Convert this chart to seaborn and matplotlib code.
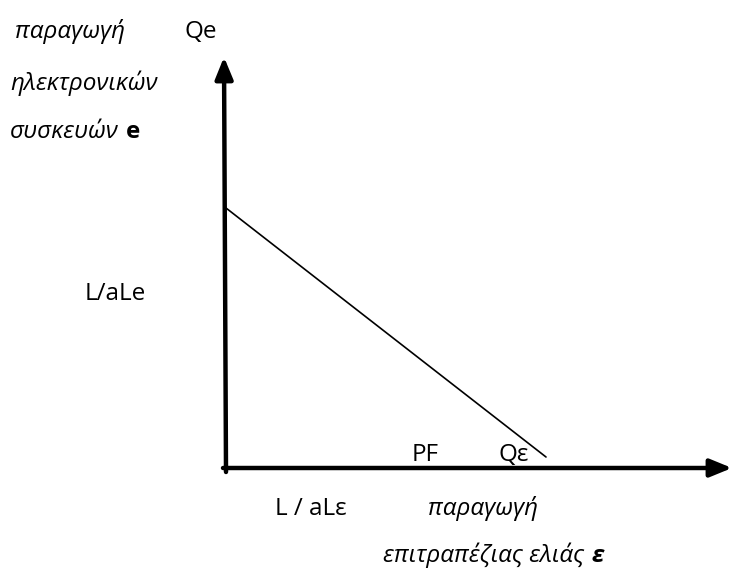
import matplotlib
matplotlib.use("Agg")
import matplotlib.pyplot as plt
import seaborn as sns
import pandas as pd

# PPF line: goes from the Qe intercept (L/aLe) down towards the Qε axis
ppf_qeps = [0, 320]
ppf_qe = [260, 11]

# axis extents (origin at the corner)
x_axis_end = 506
y_axis_end = 411

sns.set_theme(style="white")
plt.rcParams["font.family"] = ["Open Sans", "DejaVu Sans"]
plt.rcParams["text.color"] = "black"

fig = plt.figure(figsize=(7.32, 5.70), dpi=100)
ax = fig.add_axes([0, 0, 1, 1])
ax.set_xlim(-226, 506)
ax.set_ylim(-102, 468)

# axes with arrow heads
arrow = dict(arrowstyle="-|>,head_length=1.1,head_width=0.45", lw=3.2, color="black",
             shrinkA=0, shrinkB=0)
ax.annotate("", xy=(-2, y_axis_end), xytext=(0, -4), arrowprops=arrow)
ax.annotate("", xy=(x_axis_end, 0), xytext=(-3, 0), arrowprops=arrow)

df = pd.DataFrame({"Qε": ppf_qeps, "Qe": ppf_qe})
sns.lineplot(data=df, x="Qε", y="Qe", color="black", lw=1.2, ax=ax)
ax.axis("off")

fs = 17.5


def label(x, y, s, **kw):
    return ax.text(x, y, s, fontsize=fs, va="baseline", **kw)


def tail(prev, s, **kw):
    # bold letter placed right after a preceding label
    ax.annotate(s, xy=(1, 0), xycoords=prev, xytext=(5, 0), textcoords="offset points",
                fontsize=fs, va="bottom", **kw)


label(-211, 430, "παραγωγή", style="italic")
label(-41, 430, "Qe")
label(-216, 378, "ηλεκτρονικών", style="italic")
t = label(-216, 330, "συσκευών", style="italic")
tail(t, "e", weight="bold")
label(-141, 168, "L/aLe")
label(186, 7, "PF")
label(272, 7, "Qε")
label(49, -47, "L / aLε")
label(202, -47, "παραγωγή", style="italic")
t = label(157, -94, "επιτραπέζιας ελιάς", style="italic")
tail(t, "ε", style="italic", weight="bold")

fig.savefig("out.png", dpi=100)
